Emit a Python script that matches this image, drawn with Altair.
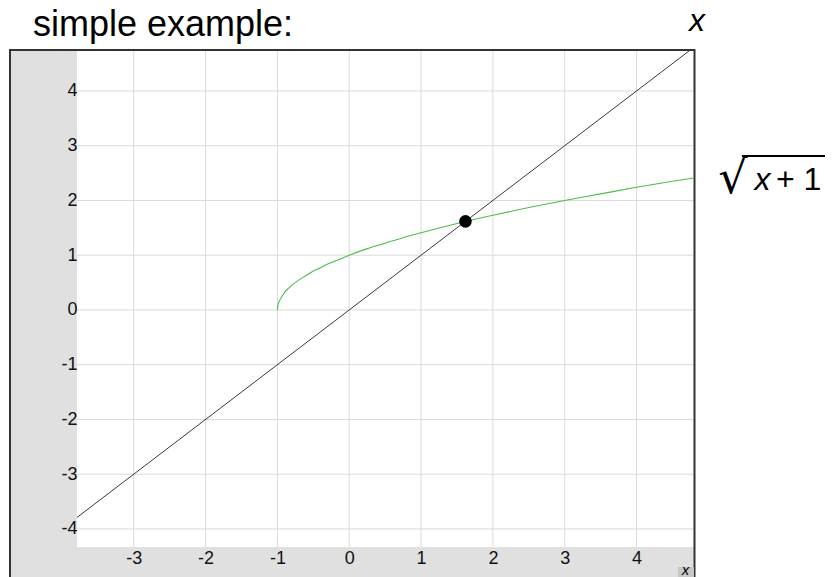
import altair as alt
import pandas as pd

FONT = "Liberation Sans"

# ---- data ----
x_ticks = [-3, -2, -1, 0, 1, 2, 3, 4]
y_ticks = [-4, -3, -2, -1, 0, 1, 2, 3, 4]
x_domain = [-3.79, 4.80]
y_domain = [-4.33, 4.73]

line_x = [-3.79, 4.73]
line_y = [-3.79, 4.73]

curve_x = [-1.0, -0.99, -0.97, -0.94, -0.9, -0.85, -0.8, -0.7, -0.6, -0.5, -0.4, -0.3,
           -0.2, 0.0, 0.25, 0.5, 0.75, 1.0, 1.5, 2.0, 2.5, 3.0, 3.5, 4.0, 4.5, 4.8]
curve_y = [0.0, 0.10, 0.17, 0.24, 0.32, 0.39, 0.45, 0.55, 0.63, 0.71, 0.77, 0.84,
           0.89, 1.0, 1.12, 1.22, 1.32, 1.41, 1.58, 1.73, 1.87, 2.0, 2.12, 2.24, 2.35, 2.41]

point_x = [1.618]
point_y = [1.618]

title_text = "simple example:"

W, H = 617, 496

xs = alt.Scale(domain=x_domain, nice=False, zero=False)
ys = alt.Scale(domain=y_domain, nice=False, zero=False)

one = alt.Data(values=[{"a": 1}])

LBL = "'' + datum.value"

# gray strips
gray_left = alt.Chart(one).mark_rect(color="#e0e0e0").encode(
    x=alt.value(-67), x2=alt.value(0), y=alt.value(-1), y2=alt.value(560))
gray_bottom = alt.Chart(one).mark_rect(color="#e0e0e0").encode(
    x=alt.value(-67), x2=alt.value(W), y=alt.value(H), y2=alt.value(560))

# grid
gx = alt.Chart(pd.DataFrame({"v": x_ticks})).mark_rule(color="#dadada", strokeWidth=1).encode(
    x=alt.X("v:Q", scale=xs,
            axis=alt.Axis(values=x_ticks, grid=False, domain=False, ticks=False,
                          labelFontSize=18, labelFont=FONT, labelColor="#111",
                          labelExpr=LBL,
                          labelPadding=2, title=None, zindex=1, orient="bottom")),
    y=alt.value(0), y2=alt.value(H))
gy = alt.Chart(pd.DataFrame({"v": y_ticks})).mark_rule(color="#dadada", strokeWidth=1).encode(
    y=alt.Y("v:Q", scale=ys,
            axis=alt.Axis(values=y_ticks, grid=False, domain=False, ticks=False,
                          labelFontSize=18, labelFont=FONT, labelColor="#111",
                          labelExpr=LBL,
                          labelPadding=0, title=None, zindex=1, orient="left")),
    x=alt.value(0), x2=alt.value(W))

# frame
frame = alt.Chart(one).mark_rect(filled=False, stroke="#333333", strokeWidth=2).encode(
    x=alt.value(-67), x2=alt.value(W + 0.5), y=alt.value(-1), y2=alt.value(600))

# black line y = x
black = alt.Chart(pd.DataFrame({"x": line_x, "y": line_y})).mark_line(
    color="#222222", strokeWidth=0.9).encode(
    x=alt.X("x:Q", scale=xs), y=alt.Y("y:Q", scale=ys))

# green curve
green = alt.Chart(pd.DataFrame({"x": curve_x, "y": curve_y})).mark_line(
    color="#4cbb4c", strokeWidth=1.1, interpolate="monotone").encode(
    x=alt.X("x:Q", scale=xs), y=alt.Y("y:Q", scale=ys))

dot = alt.Chart(pd.DataFrame({"x": point_x, "y": point_y})).mark_point(
    filled=True, color="black", opacity=1, size=160).encode(
    x=alt.X("x:Q", scale=xs), y=alt.Y("y:Q", scale=ys))

# texts
title = alt.Chart(one).mark_text(text=title_text, font=FONT, fontSize=36, align="center",
                                 baseline="alphabetic", color="black").encode(
    x=alt.value(86), y=alt.value(-15))
xlab_top = alt.Chart(one).mark_text(text="x", font=FONT, fontSize=32, fontStyle="italic",
                                    align="center", baseline="alphabetic", color="black").encode(
    x=alt.value(620), y=alt.value(-20))
sqrt_sym = alt.Chart(one).mark_text(text="√", font="DejaVu Sans", fontSize=46, align="center",
                                    baseline="alphabetic", color="black").encode(
    x=alt.value(656), y=alt.value(142))
sqrt_x = alt.Chart(one).mark_text(text="x", font=FONT, fontSize=32, fontStyle="italic",
                                  align="center", baseline="alphabetic", color="black").encode(
    x=alt.value(685.5), y=alt.value(139))
sqrt_rest = alt.Chart(one).mark_text(text="+ 1", font=FONT, fontSize=32, align="left",
                                     baseline="alphabetic", color="black").encode(
    x=alt.value(699), y=alt.value(139))
overline = alt.Chart(one).mark_rule(color="black", strokeWidth=2).encode(
    x=alt.value(665), x2=alt.value(748), y=alt.value(105))

xbox = alt.Chart(one).mark_rect(color="#c8c8c8").encode(
    x=alt.value(601), x2=alt.value(W), y=alt.value(516), y2=alt.value(560))
xbox_t = alt.Chart(one).mark_text(text="x", font=FONT, fontSize=15, fontStyle="italic",
                                  align="center", baseline="alphabetic", color="black").encode(
    x=alt.value(608.5), y=alt.value(524))

chart = alt.layer(
    gray_left, gray_bottom, gx, gy, frame, green, black, dot,
    title, xlab_top, sqrt_sym, sqrt_x, sqrt_rest, overline, xbox, xbox_t
).properties(
    width=W, height=H,
    autosize=alt.AutoSizeParams(type="none"),
    padding={"left": 69, "top": 43, "right": 131, "bottom": 30},
    background="white",
).configure_view(stroke=None).configure_axis(
    labelFontSize=18, labelFont=FONT, labelColor="#111",
)

chart.save("out.html", embed_options={"renderer": "svg", "actions": False})
